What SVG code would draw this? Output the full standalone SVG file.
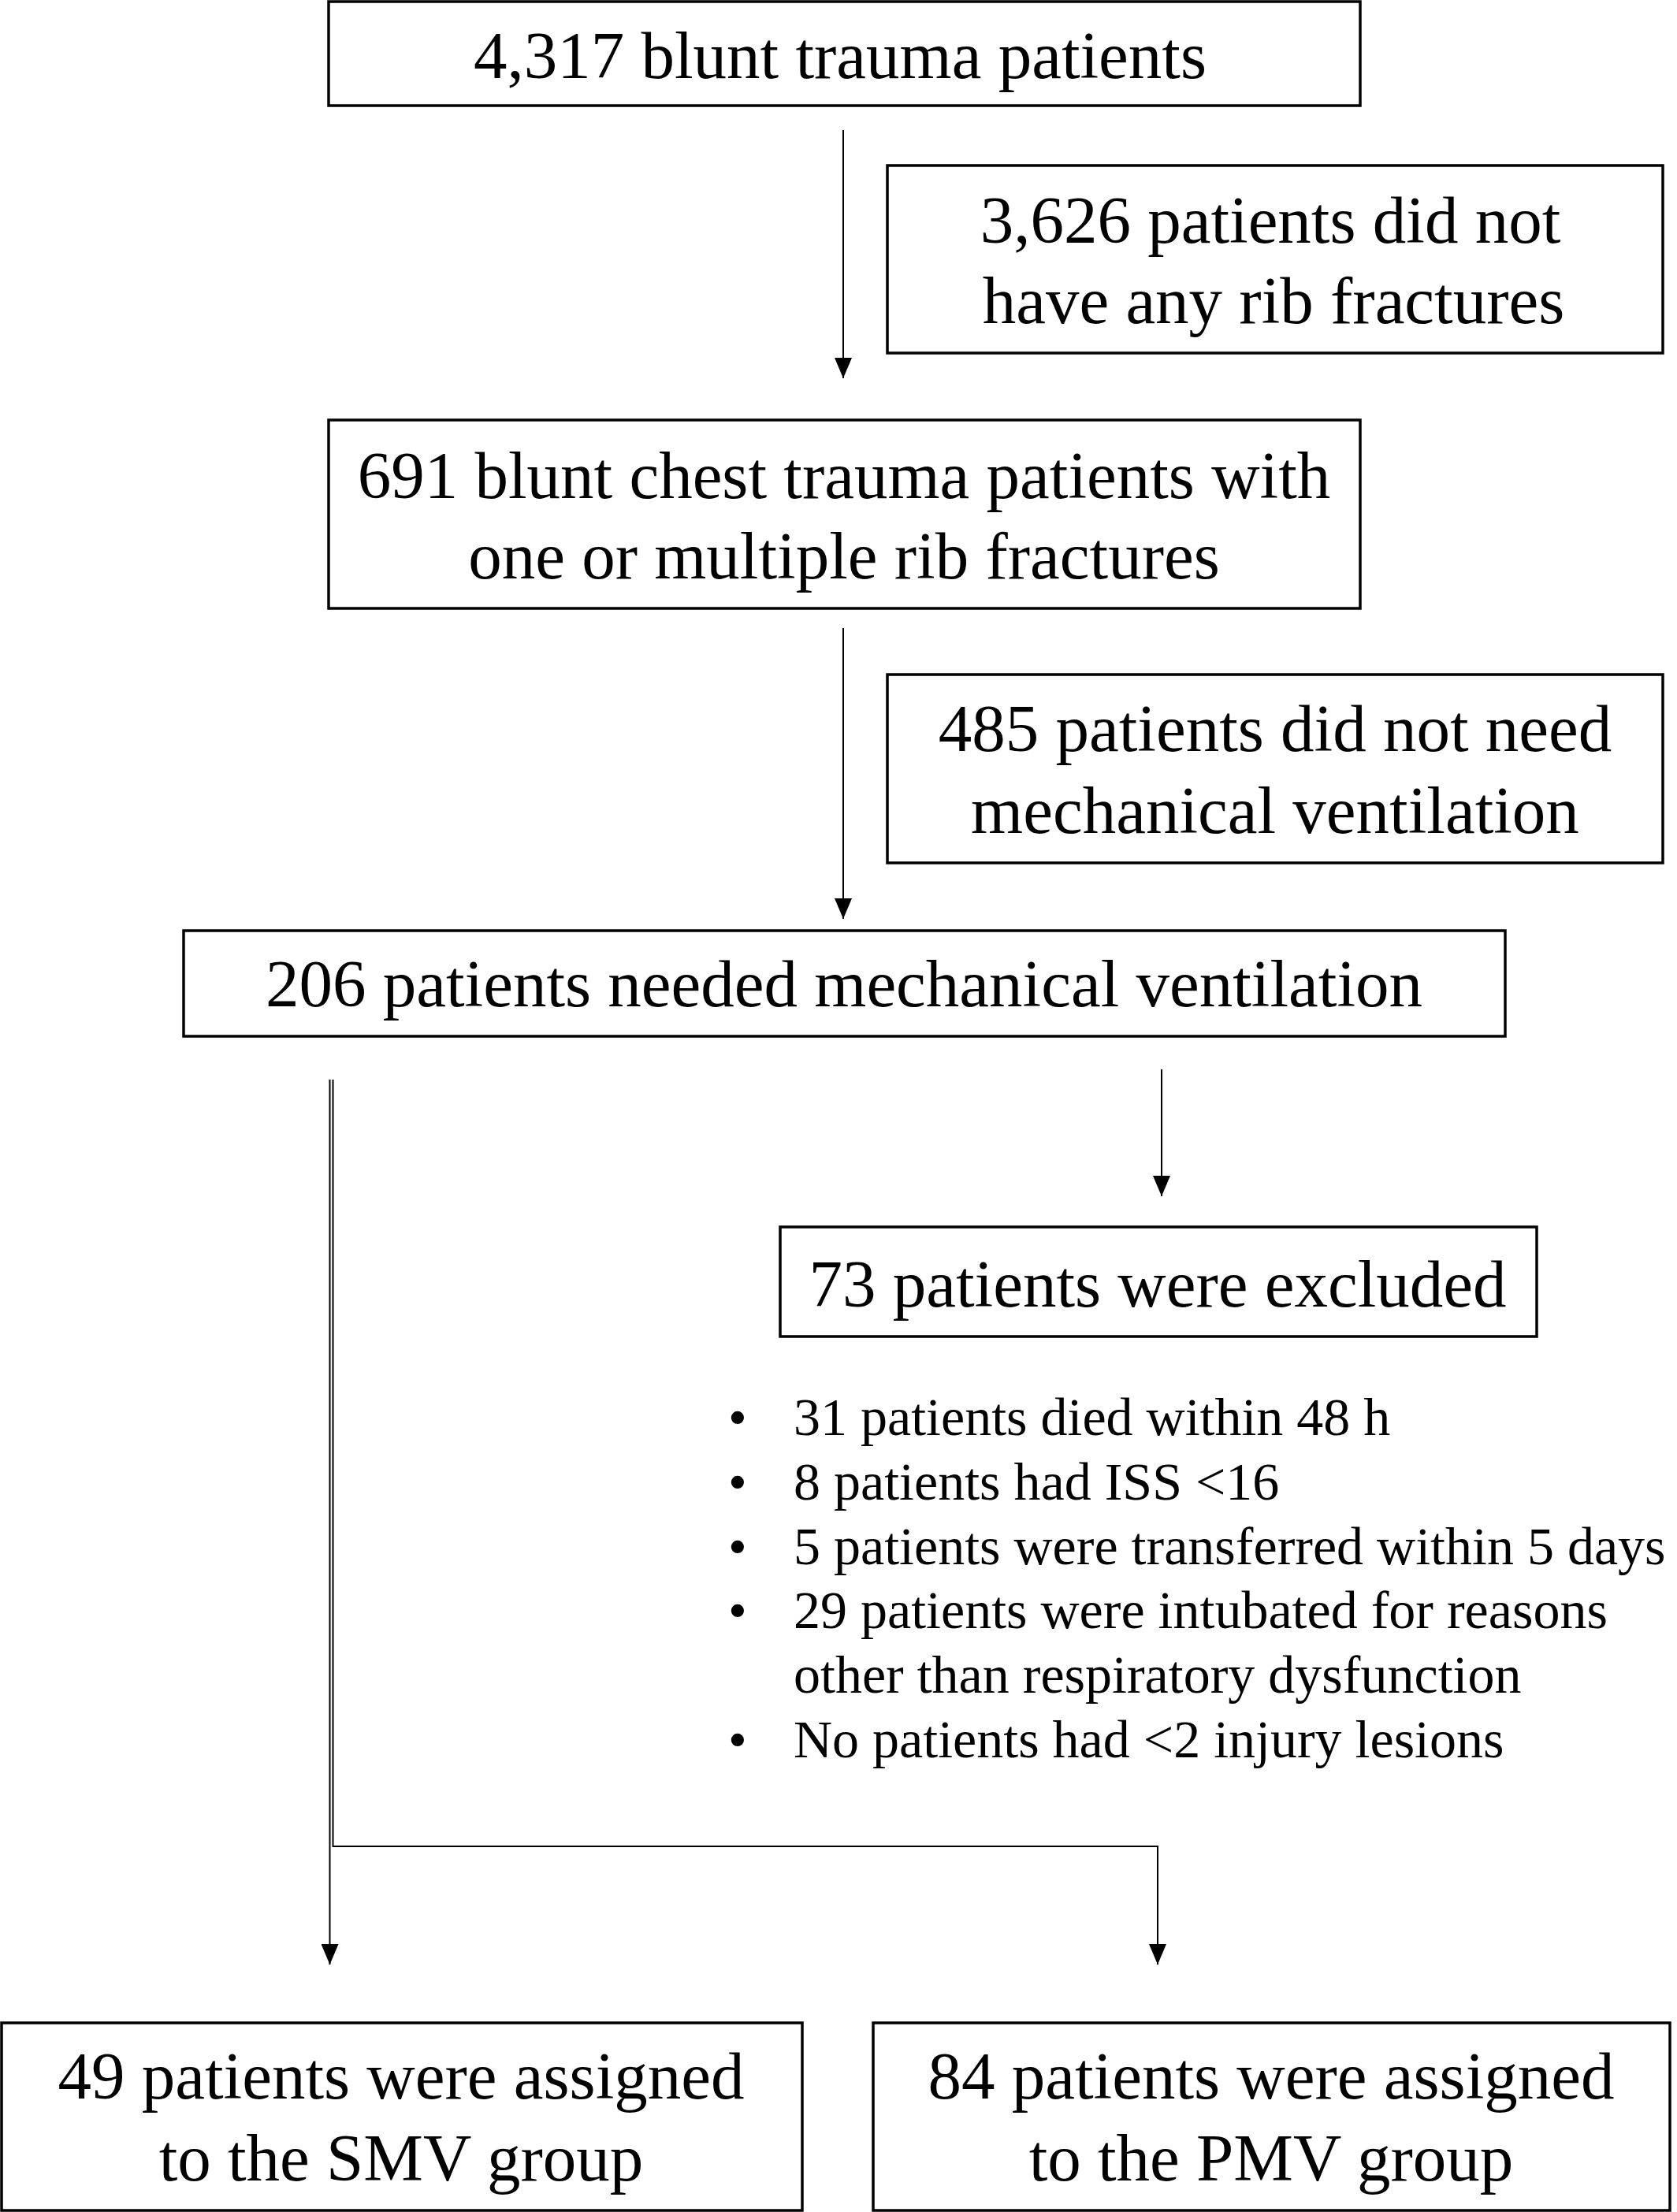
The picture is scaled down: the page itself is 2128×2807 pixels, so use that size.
<svg xmlns="http://www.w3.org/2000/svg" width="2128" height="2807" viewBox="0 0 2128 2807">
<style>
.box{fill:#fff;stroke:#000;stroke-width:3.5}
.t{font-family:"Liberation Serif","Times New Roman",serif;font-size:85px;fill:#000;text-anchor:middle}
.b{font-family:"Liberation Serif","Times New Roman",serif;font-size:68px;fill:#000}
.c{fill:none;stroke:#000;stroke-width:2}
</style>
<defs>
<marker id="ah" markerUnits="userSpaceOnUse" markerWidth="26" markerHeight="22" refX="26" refY="11" orient="auto">
<path d="M0,0 L26,11 L0,22 z" fill="#000"/>
</marker>
</defs>
<rect width="2128" height="2807" fill="#fff"/>
<g id="connectors">
<path class="c" d="M1070,165 V480" marker-end="url(#ah)"/>
<path class="c" d="M1070,797 V1166" marker-end="url(#ah)"/>
<path class="c" d="M1474,1357 V1518" marker-end="url(#ah)"/>
<path class="c" d="M418.5,1370 V2493" marker-end="url(#ah)"/>
<path class="c" d="M422.5,1370 V2343 H1469 V2493" marker-end="url(#ah)"/>
</g>
<g id="n1">
<rect class="box" x="417" y="2" width="1309" height="132"/>
<text class="t" x="1066" y="99">4,317 blunt trauma patients</text>
</g>
<g id="n2">
<rect class="box" x="1126" y="210" width="984" height="238"/>
<text class="t" x="1612" y="308">3,626 patients did not</text>
<text class="t" x="1616" y="410">have any rib fractures</text>
</g>
<g id="n3">
<rect class="box" x="417" y="533" width="1309" height="239"/>
<text class="t" x="1071" y="632">691 blunt chest trauma patients with</text>
<text class="t" x="1071" y="734">one or multiple rib fractures</text>
</g>
<g id="n4">
<rect class="box" x="1126" y="856" width="984" height="239"/>
<text class="t" x="1618" y="953">485 patients did not need</text>
<text class="t" x="1618" y="1057">mechanical ventilation</text>
</g>
<g id="n5">
<rect class="box" x="233" y="1181" width="1677" height="134"/>
<text class="t" x="1071" y="1277">206 patients needed mechanical ventilation</text>
</g>
<g id="n6">
<rect class="box" x="990" y="1557" width="960" height="139"/>
<text class="t" x="1469" y="1658">73 patients were excluded</text>
</g>
<g id="exclusions">
<text class="b" x="924" y="1821">•</text><text class="b" x="1007" y="1821">31 patients died within 48 h</text>
<text class="b" x="924" y="1903">•</text><text class="b" x="1007" y="1903">8 patients had ISS &lt;16</text>
<text class="b" x="924" y="1985">•</text><text class="b" x="1007" y="1985">5 patients were transferred within 5 days</text>
<text class="b" x="924" y="2066">•</text><text class="b" x="1007" y="2066">29 patients were intubated for reasons</text>
<text class="b" x="1007" y="2148">other than respiratory dysfunction</text>
<text class="b" x="924" y="2230">•</text><text class="b" x="1007" y="2230">No patients had &lt;2 injury lesions</text>
</g>
<g id="n7">
<rect class="box" x="2" y="2567" width="1016" height="238"/>
<text class="t" x="509" y="2663">49 patients were assigned</text>
<text class="t" x="509" y="2767">to the SMV group</text>
</g>
<g id="n8">
<rect class="box" x="1108" y="2567" width="1011" height="238"/>
<text class="t" x="1613" y="2663">84 patients were assigned</text>
<text class="t" x="1613" y="2767">to the PMV group</text>
</g>
</svg>
